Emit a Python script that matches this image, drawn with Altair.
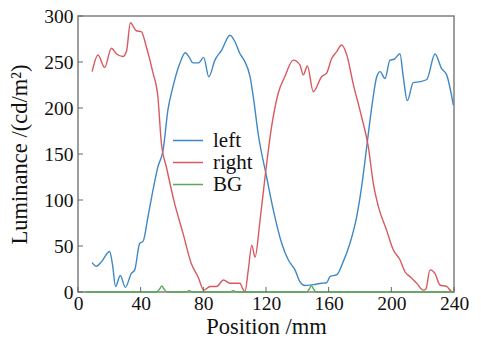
import altair as alt
import pandas as pd

left_x = [9, 11.7, 15, 20.2, 22, 24, 27, 30.2, 34, 36.2, 39.4, 41.5, 44.7, 47.9, 51, 54.3, 57.4,
          60.6, 64.9, 68.5, 71, 73.4, 77, 80.2, 83.5, 87.4, 91.7, 97, 100.2, 103.4, 106, 109.8,
          111.9, 115, 120.4, 124.7, 130, 134.2, 138.5, 141.7, 144.9, 150.2, 155.5, 158.7, 161,
          165, 169.3, 173.6, 177.9, 181, 184.3, 187.5, 190.7, 192.8, 196, 199.1, 201.7, 205.5,
          207.6, 210.2, 214, 218.3, 222.6, 227.9, 232, 235.3, 239.6]
left_y = [32, 28, 33, 44, 30, 6, 18, 5, 20, 24, 53, 55, 82, 111, 136, 154, 198,
          223, 248, 260, 255, 249, 249, 255, 234, 252, 263, 279, 272, 259, 252, 234,
          212, 172, 125, 89, 53, 35, 24, 11, 7, 8, 9.5, 10, 17,
          18.5, 33, 53, 82, 114, 158, 201, 234, 239.5, 232, 252, 253, 259,
          234, 208, 227.5, 228.6, 231, 258.7, 243, 236, 203]

right_x = [9, 12.8, 17, 21.3, 24.5, 28.7, 31, 33.4, 37.2, 40.4, 43.6, 47.9, 51, 53.2, 56.4,
           61.7, 67, 72.3, 76.6, 80.4, 84.3, 88.5, 92.8, 97, 103.4, 105, 106.6, 108.7, 110.9,
           113, 116.2, 119.4, 123.6, 127.8, 132, 137.4, 141.7, 143.8, 146.4, 150.2, 155.5,
           158.7, 162, 165, 168.3, 171.5, 175.7, 181, 185.3, 188.5, 191.7, 197, 201.3, 205.5,
           208.7, 212, 216.2, 220.4, 222, 224.7, 227.9, 231, 235.3, 238.5, 240]
right_y = [239.5, 257.6, 244, 265, 259, 256, 262, 292.7, 284, 283, 266.6, 238, 212, 162, 136,
           96, 64, 31, 16.6, 2, 6, 6, 13, 9.5, 9.5, 4, 0.5, 24, 51,
           38, 78, 125, 180, 216, 234, 252, 246.7, 236, 245.6, 217.7, 234,
           238, 254, 261, 268.5, 258, 226, 190.5, 158, 118, 93, 67, 45.6, 35,
           22, 16.6, 9.5, 2, 3, 24, 20, 7.6, 6, 0.5, 0]

bg_x = [5, 50, 52, 53.5, 55, 57, 69, 71, 73, 97, 99, 101, 146, 147.5, 149, 150.5, 152, 240]
bg_y = [0, 0, 3, 6.5, 3, 0, 0, 1.5, 0, 0, 1.5, 0, 0, 3, 6.5, 3, 0, 0]

series = ["left", "right", "BG"]
colors = ["#3f88c5", "#d85a60", "#5aa95a"]
x_ticks = [0, 40, 80, 120, 160, 200, 240]
y_ticks = [0, 50, 100, 150, 200, 250, 300]

rows = []
for name, xs, ys in [("left", left_x, left_y), ("right", right_x, right_y), ("BG", bg_x, bg_y)]:
    for i, (a, b) in enumerate(zip(xs, ys)):
        rows.append({"series": name, "pos": a, "lum": b, "order": i})
df = pd.DataFrame(rows)

FONT = "Liberation Serif"
W, H = 376, 276

xscale = alt.Scale(domain=[0, 240], nice=False)
yscale = alt.Scale(domain=[0, 300], nice=False)

lines = alt.Chart(df).mark_line(strokeWidth=1.4, interpolate="monotone").encode(
    x=alt.X("pos:Q", scale=xscale, title="Position /mm",
            axis=alt.Axis(values=x_ticks, ticks=False, domain=False, grid=False,
                          labelFlush=False, labelOverlap=False,
                          labelFont=FONT, labelFontSize=19.5, labelColor="#111",
                          labelPadding=2, titleFont=FONT, titleFontSize=22.5,
                          titleFontWeight="normal", titleColor="#111", titlePadding=3)),
    y=alt.Y("lum:Q", scale=yscale, title="Luminance /(cd/m²)",
            axis=alt.Axis(values=y_ticks, ticks=False, domain=False, grid=False,
                          labelFlush=False, labelOverlap=False,
                          labelFont=FONT, labelFontSize=19.5, labelColor="#111",
                          labelPadding=5, titleFont=FONT, titleFontSize=22.5,
                          titleFontWeight="normal", titleColor="#111", titlePadding=12)),
    color=alt.Color("series:N", scale=alt.Scale(domain=series, range=colors),
                    legend=alt.Legend(title=None, orient="none", legendX=94, legendY=115,
                                      symbolType="stroke", symbolSize=900, symbolStrokeWidth=1.6,
                                      clipHeight=19, labelFont=FONT, labelFontSize=21,
                                      labelColor="#111", labelOffset=9, rowPadding=0,
                                      padding=0)),
    order="order:Q",
)

xt = alt.Chart(pd.DataFrame({"t": x_ticks})).mark_rule(color="#666", strokeWidth=1).encode(
    x=alt.X("t:Q", scale=xscale), y=alt.value(H), y2=alt.value(H - 5))
yt = alt.Chart(pd.DataFrame({"t": y_ticks})).mark_rule(color="#666", strokeWidth=1).encode(
    y=alt.Y("t:Q", scale=yscale), x=alt.value(0), x2=alt.value(5))

chart = alt.layer(lines, xt, yt).properties(
    width=W, height=H, autosize="none",
    padding={"left": 78, "top": 16, "right": 27, "bottom": 52},
    background="white",
).configure_view(stroke="#7f7f7f", strokeWidth=1.5)

chart.save("out.html", embed_options={"renderer": "svg", "actions": False})
